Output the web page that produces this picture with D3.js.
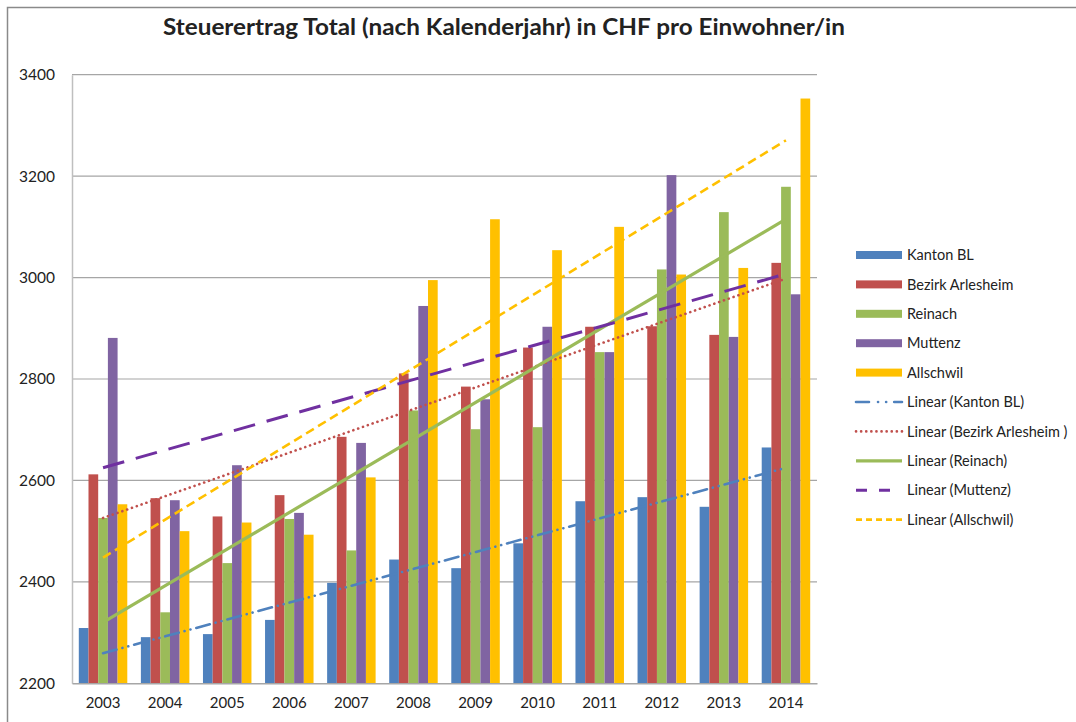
<!DOCTYPE html>
<html><head><meta charset="utf-8">
<script src="https://cdn.jsdelivr.net/npm/d3@7"></script>
<style>body{margin:0;background:#fff}svg{display:block}text{font-family:Lato,"Open Sans",sans-serif;fill:#222}</style>
</head><body>
<svg id="c" width="1076" height="722"></svg>
<script>
const title = "Steuerertrag Total (nach Kalenderjahr) in CHF pro Einwohner/in";
const years = ["2003","2004","2005","2006","2007","2008","2009","2010","2011","2012","2013","2014"];
const seriesNames = ["Kanton BL","Bezirk Arlesheim","Reinach","Muttenz","Allschwil"];
const trendNames = ["Linear (Kanton BL)","Linear (Bezirk Arlesheim )","Linear (Reinach)","Linear (Muttenz)","Linear (Allschwil)"];
const kantonBL  = [2309,2291,2297,2325,2398,2444,2427,2476,2559,2567,2548,2665];
const arlesheim = [2612,2565,2529,2571,2686,2811,2785,2862,2903,2904,2887,3029];
const reinach   = [2526,2340,2437,2524,2462,2738,2701,2705,2853,3016,3129,3179];
const muttenz   = [2881,2561,2630,2536,2674,2944,2760,2903,2853,3202,2883,2967];
const allschwil = [2553,2500,2517,2493,2606,2995,3115,3054,3100,3006,3019,3353];
const yTicks = [2200,2400,2600,2800,3000,3200,3400];
const colors = ["#4F81BD","#C0504D","#9BBB59","#8064A2","#FFC000"];
const trendColors = ["#4F81BD","#C0504D","#9BBB59","#7030A0","#FFC000"];
const trendDash = ["14 6 0.1 6 0.1 6","0.1 5","none","22 12","9 5"];
const trendWidth = [2.6,2.6,3.2,3,2.6];
const data = [kantonBL, arlesheim, reinach, muttenz, allschwil];

const svg = d3.select("#c");
const L = 72, R = 817, T = 74.7, B = 683.3;

// outer border
svg.append("path").attr("d","M7.5,722 V7.5 H1076").attr("fill","none").attr("stroke","#8a8a8a").attr("stroke-width",1.5);

const x0 = d3.scaleBand().domain(years).range([L,R]).paddingInner(0.219).paddingOuter(0.1095);
const x1 = d3.scaleBand().domain(d3.range(5)).range([0,x0.bandwidth()]);
const y = d3.scaleLinear().domain([2200,3400]).range([B,T]);

// grid
svg.append("g").selectAll("line").data(yTicks.slice(1)).join("line")
  .attr("x1",L).attr("x2",R).attr("y1",d=>y(d)).attr("y2",d=>y(d))
  .attr("stroke","#a6a6a6").attr("stroke-width",1.2);

// y axis
const yAxis = svg.append("g").attr("transform",`translate(${L},0)`)
  .call(d3.axisLeft(y).tickValues(yTicks).tickSize(0).tickPadding(17).tickFormat(d3.format("d")));
yAxis.select(".domain").attr("stroke","#bfbfbf").attr("stroke-width",1.5);
yAxis.selectAll("text").attr("font-size","15.5px").attr("fill","#222").style("font-family","Lato");

// bars
const g = svg.append("g");
years.forEach((yr,i)=>{
  data.forEach((s,k)=>{
    g.append("rect").attr("x",x0(yr)+x1(k)).attr("width",x1.bandwidth())
      .attr("y",y(s[i])).attr("height",y(2200)-y(s[i])).attr("fill",colors[k]);
  });
});

// x axis
const xAxis = svg.append("g").attr("transform",`translate(0,${B})`)
  .call(d3.axisBottom(x0).tickSize(0).tickPadding(14));
xAxis.select(".domain").attr("stroke","#a6a6a6").attr("stroke-width",1.5);
xAxis.selectAll("text").attr("font-size","15px").attr("fill","#222").style("font-family","Lato");

// trendlines (least squares fit of each series)
data.forEach((s,k)=>{
  const n = s.length, xs = d3.range(1,n+1);
  const mx = d3.mean(xs), my = d3.mean(s);
  const b = d3.sum(xs.map((xv,i)=>(xv-mx)*(s[i]-my)))/d3.sum(xs.map(xv=>(xv-mx)**2));
  const a = my - b*mx;
  const pts = [[years[0],a+b*1],[years[n-1],a+b*n]];
  svg.append("path").datum(pts)
    .attr("d",d3.line().x(d=>x0(d[0])+x0.bandwidth()/2).y(d=>y(d[1])))
    .attr("fill","none").attr("stroke",trendColors[k]).attr("stroke-width",trendWidth[k])
    .attr("stroke-dasharray",trendDash[k]==="none"?null:trendDash[k])
    .attr("stroke-linecap",(k===0||k===1)?"round":"butt");
});

// legend
const lg = svg.append("g");
const ly = i => 255 + 29.4*i;
seriesNames.forEach((nm,i)=>{
  lg.append("rect").attr("x",856).attr("y",ly(i)-4).attr("width",46).attr("height",8).attr("fill",colors[i]);
  lg.append("text").attr("x",907).attr("y",ly(i)).attr("dy","0.36em").attr("font-size","14.5px").text(nm);
});
trendNames.forEach((nm,i)=>{
  const j = i+5;
  lg.append("line").attr("x1",856).attr("x2",902).attr("y1",ly(j)).attr("y2",ly(j))
    .attr("stroke",trendColors[i]).attr("stroke-width",trendWidth[i])
    .attr("stroke-dasharray",trendDash[i]==="none"?null:(i===0?"13 9 0.1 8 0.1 8":(i===3?"11 12":(i===4?"6 4":trendDash[i]))))
    .attr("stroke-linecap",(i===0||i===1)?"round":"butt");
  lg.append("text").attr("x",907).attr("y",ly(j)).attr("dy","0.36em").attr("font-size","14.5px").text(nm);
});

// title
svg.append("text").attr("x",163).attr("y",34.5).attr("font-size","22px").attr("font-weight","bold")
  .attr("textLength",682).attr("lengthAdjust","spacingAndGlyphs").attr("fill","#111").text(title);
</script>
</body></html>
